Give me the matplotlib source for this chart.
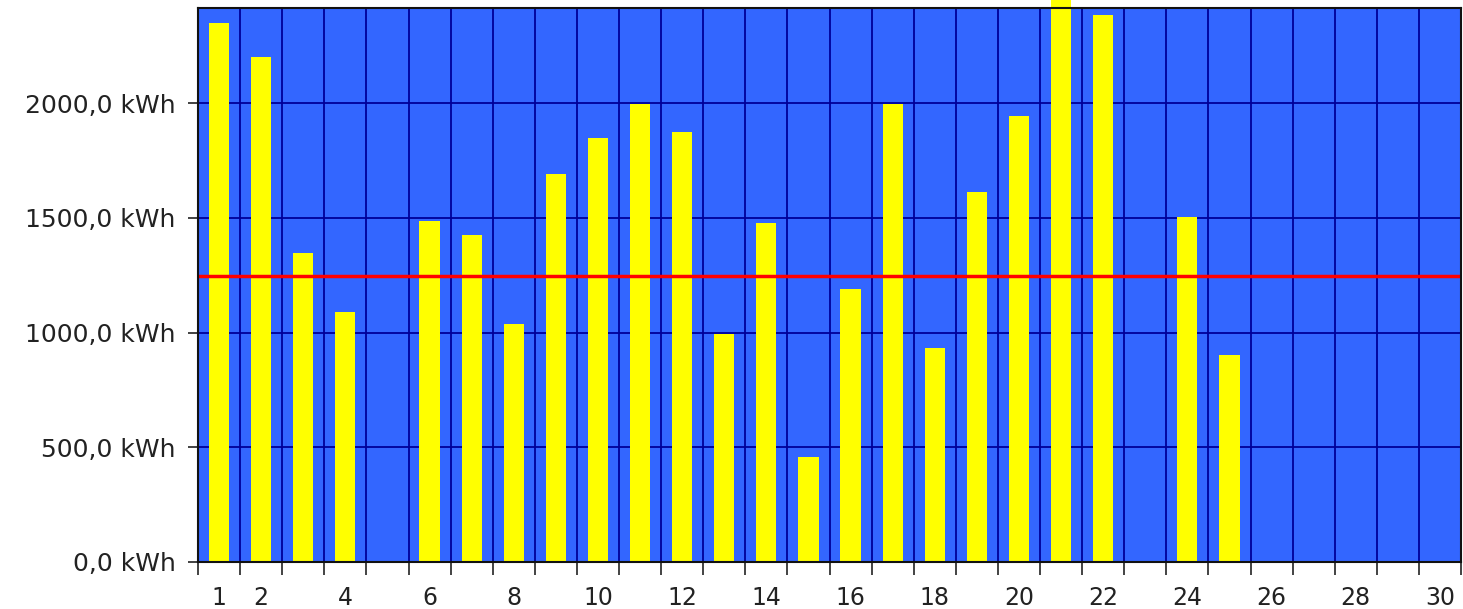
import matplotlib
matplotlib.use("Agg")
import matplotlib.pyplot as plt
from matplotlib.ticker import FuncFormatter, FixedLocator

plt.rcParams["font.family"] = ["DejaVu Sans"]

days = list(range(1, 31))
energy_kwh = [2350, 2200, 1346, 1089, 0, 1486, 1425, 1037, 1691, 1847,
              1996, 1874, 993, 1477, 458, 1190, 1996, 933, 1612, 1943,
              2470, 2383, 0, 1503, 902, 0, 0, 0, 0, 0]
average_kwh = 1246
x_labels = ["1", "2", "4", "6", "8", "10", "12", "14", "16", "18", "20",
            "22", "24", "26", "28", "30"]
y_ticks = [0, 500, 1000, 1500, 2000]

W, H = 1463, 609
fig = plt.figure(figsize=(W / 100, H / 100), dpi=100)
ax = fig.add_axes([198 / W, 1 - 562 / H, (1461 - 198) / W, (562 - 8) / H])
ax.set_facecolor("#3366FF")

bars = ax.bar(days, energy_kwh, width=0.48, color="#FFFF00", zorder=3)
for b in bars:
    b.set_clip_on(False)
ax.axhline(average_kwh, color="#FF0000", linewidth=2.5, zorder=4)

ax.set_xlim(0.5, 30.5)
ax.set_ylim(0, 2414)

# grid at day boundaries
ax.xaxis.set_major_locator(FixedLocator([d + 0.5 for d in range(0, 31)]))
ax.xaxis.set_major_formatter(FuncFormatter(lambda v, p: ""))
ax.xaxis.set_minor_locator(FixedLocator([float(s) for s in x_labels]))
ax.set_xticklabels(x_labels, minor=True)
ax.tick_params(axis="x", which="major", length=9, width=1.2, color="#222222")
ax.tick_params(axis="x", which="minor", length=0, pad=17.5, labelsize=17,
               labelcolor="#222222")

ax.set_yticks(y_ticks)
ax.yaxis.set_major_formatter(FuncFormatter(
    lambda v, p: f"{v:.1f}".replace(".", ",") + " kWh"))
ax.tick_params(axis="y", length=7, width=1.2, pad=9, labelsize=18,
               labelcolor="#222222", color="#222222")

ax.grid(True, which="major", color="#000099", linewidth=1.3, zorder=1)
ax.set_axisbelow(True)
for s in ax.spines.values():
    s.set_color("#111111")
    s.set_linewidth(1.5)
    s.set_zorder(5)

fig.savefig("out.png", dpi=100, facecolor="white")
